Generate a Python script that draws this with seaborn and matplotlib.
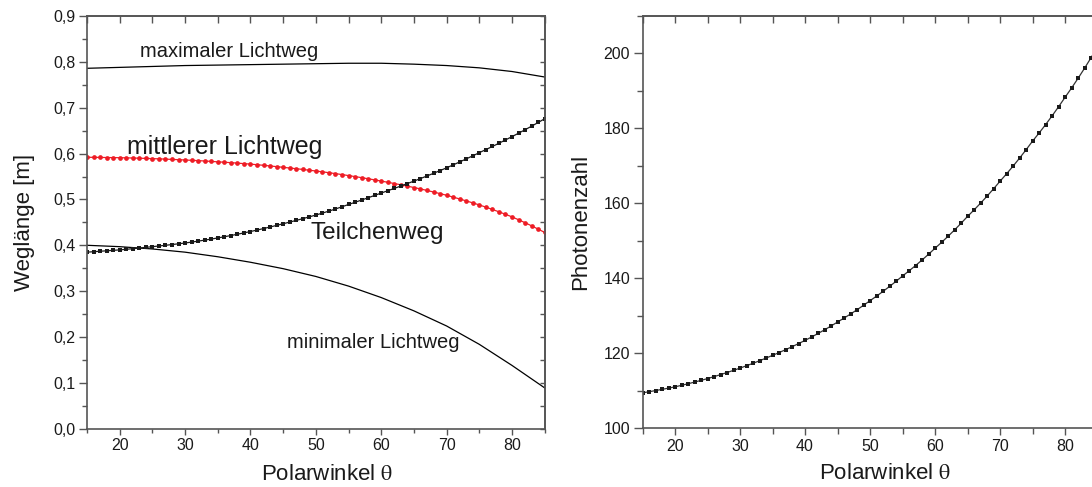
import numpy as np
import matplotlib
matplotlib.use("Agg")
import matplotlib.pyplot as plt
import seaborn as sns

# ---- data -------------------------------------------------------------
theta = np.arange(15, 86, 1)                 # Polarwinkel in Grad
theta_coarse = [15, 20, 25, 30, 35, 40, 45, 50, 55, 60, 65, 70, 75, 80, 85]

teilchenweg = [0.3850, 0.3860, 0.3870, 0.3880, 0.3890, 0.3900,
               0.3913, 0.3926, 0.3940, 0.3955, 0.3970,
               0.3985, 0.4000, 0.4016, 0.4033, 0.4050,
               0.4070, 0.4091, 0.4113, 0.4136, 0.4160,
               0.4186, 0.4213, 0.4241, 0.4270, 0.4300,
               0.4332, 0.4365, 0.4399, 0.4434, 0.4470,
               0.4506, 0.4543, 0.4581, 0.4620, 0.4660,
               0.4702, 0.4746, 0.4792, 0.4840, 0.4890,
               0.4938, 0.4987, 0.5037, 0.5088, 0.5140,
               0.5190, 0.5241, 0.5293, 0.5346, 0.5400,
               0.5455, 0.5512, 0.5570, 0.5629, 0.5690,
               0.5753, 0.5818, 0.5884, 0.5951, 0.6020,
               0.6087, 0.6155, 0.6225, 0.6297, 0.6370,
               0.6444, 0.6520, 0.6598, 0.6678, 0.6760]

mittlerer_lichtweg = [0.5920, 0.5918, 0.5916, 0.5914, 0.5912, 0.5910,
                      0.5907, 0.5903, 0.5899, 0.5895, 0.5890,
                      0.5885, 0.5879, 0.5873, 0.5867, 0.5860,
                      0.5853, 0.5846, 0.5838, 0.5829, 0.5820,
                      0.5811, 0.5802, 0.5792, 0.5781, 0.5770,
                      0.5757, 0.5744, 0.5730, 0.5715, 0.5700,
                      0.5685, 0.5670, 0.5654, 0.5637, 0.5620,
                      0.5602, 0.5583, 0.5563, 0.5542, 0.5520,
                      0.5498, 0.5475, 0.5451, 0.5426, 0.5400,
                      0.5374, 0.5347, 0.5319, 0.5290, 0.5260,
                      0.5229, 0.5196, 0.5162, 0.5127, 0.5090,
                      0.5051, 0.5010, 0.4968, 0.4925, 0.4880,
                      0.4832, 0.4782, 0.4730, 0.4676, 0.4620,
                      0.4557, 0.4492, 0.4424, 0.4353, 0.4280]

maximaler_lichtweg = [0.786, 0.788, 0.790, 0.792, 0.793, 0.794, 0.795, 0.796,
                      0.797, 0.797, 0.795, 0.792, 0.787, 0.779, 0.767]
minimaler_lichtweg = [0.400, 0.397, 0.392, 0.385, 0.375, 0.363, 0.349, 0.332,
                      0.311, 0.286, 0.257, 0.224, 0.184, 0.138, 0.089]

photonenzahl = [109.40, 109.69, 110.00, 110.32, 110.65, 111.00,
                111.40, 111.82, 112.26, 112.72, 113.20,
                113.72, 114.26, 114.82, 115.40, 116.00,
                116.63, 117.28, 117.96, 118.67, 119.40,
                120.14, 120.91, 121.71, 122.54, 123.40,
                124.30, 125.24, 126.22, 127.24, 128.30,
                129.35, 130.44, 131.58, 132.77, 134.00,
                135.21, 136.48, 137.80, 139.17, 140.60,
                141.96, 143.38, 144.86, 146.40, 148.00,
                149.56, 151.19, 152.89, 154.66, 156.50,
                158.23, 160.03, 161.91, 163.87, 165.90,
                167.87, 169.92, 172.06, 174.29, 176.60,
                178.75, 181.00, 183.34, 185.77, 188.30,
                190.78, 193.37, 196.07, 198.88, 201.80]

x_major = [20, 30, 40, 50, 60, 70, 80]
x_minor = [15, 25, 35, 45, 55, 65, 75, 85]
x_labels = ["20", "30", "40", "50", "60", "70", "80"]

weg_major = [0.0, 0.1, 0.2, 0.3, 0.4, 0.5, 0.6, 0.7, 0.8, 0.9]
weg_minor = [0.05, 0.15, 0.25, 0.35, 0.45, 0.55, 0.65, 0.75, 0.85]
weg_labels = ["0,0", "0,1", "0,2", "0,3", "0,4", "0,5", "0,6", "0,7", "0,8", "0,9"]

ph_major = [100, 120, 140, 160, 180, 200]
ph_minor = [110, 130, 150, 170, 190, 210]
ph_labels = ["100", "120", "140", "160", "180", "200"]

# ---- style ------------------------------------------------------------
sns.set_theme(style="ticks")
plt.rcParams["font.family"] = ["Liberation Sans", "DejaVu Sans"]
plt.rcParams["mathtext.fontset"] = "stix"
SPINE = "#555555"
plt.rcParams["axes.edgecolor"] = SPINE
plt.rcParams["axes.linewidth"] = 1.2
plt.rcParams["xtick.color"] = SPINE
plt.rcParams["ytick.color"] = SPINE
plt.rcParams["xtick.labelcolor"] = "#1a1a1a"
plt.rcParams["ytick.labelcolor"] = "#1a1a1a"

XLABEL = r"Polarwinkel $\mathrm{\theta}$"

fig = plt.figure(figsize=(10.92, 4.87), dpi=100)
ax1 = fig.add_axes([0.0797, 0.1197, 0.4191, 0.8474])
ax2 = fig.add_axes([0.5884, 0.1211, 0.4167, 0.8460])


def dress(ax, ymaj, ymin, ylabels, ylim, blen, llen):
    ax.set_xlim(15, 85)
    ax.set_ylim(*ylim)
    ax.set_xticks(x_major)
    ax.set_xticklabels(x_labels)
    ax.set_xticks(x_minor, minor=True)
    ax.set_yticks(ymaj)
    ax.set_yticklabels(ylabels)
    ax.set_yticks(ymin, minor=True)
    ax.tick_params(axis="x", which="major", direction="out", length=blen,
                   width=1.0, labelsize=11.5, pad=3)
    ax.tick_params(axis="x", which="minor", direction="out", length=blen - 1,
                   width=1.0)
    ax.tick_params(axis="y", which="major", direction="out", length=llen,
                   width=1.0, labelsize=11.5, pad=2.5)
    ax.tick_params(axis="y", which="minor", direction="out", length=llen - 2.5,
                   width=1.0)
    for s in ax.spines.values():
        s.set_visible(True)
        s.set_color(SPINE)
    # inward ticks on the opposite sides
    top = ax.secondary_xaxis("top")
    top.set_xticks(x_major)
    top.set_xticks(x_minor, minor=True)
    top.tick_params(axis="x", which="both", direction="in", length=5,
                    width=1.0, labeltop=False)
    right = ax.secondary_yaxis("right")
    right.set_yticks(ymaj)
    right.set_yticks(ymin, minor=True)
    right.tick_params(axis="y", which="both", direction="in", length=3.5,
                      width=1.0, labelright=False)
    for sec in (top, right):
        for s in sec.spines.values():
            s.set_color(SPINE)


# ---- left panel: path lengths ------------------------------------------
sns.lineplot(x=theta_coarse, y=maximaler_lichtweg, ax=ax1, color="black",
             linewidth=0.9, estimator=None, sort=False)
sns.lineplot(x=theta_coarse, y=minimaler_lichtweg, ax=ax1, color="black",
             linewidth=0.9, estimator=None, sort=False)
sns.lineplot(x=theta, y=mittlerer_lichtweg, ax=ax1, color="#ee1c25",
             linewidth=0.9, marker="o", markersize=3.4, markeredgewidth=0,
             markerfacecolor="#ee1c25", estimator=None, sort=False)
sns.lineplot(x=theta, y=teilchenweg, ax=ax1, color="#1a1a1a",
             linewidth=0.9, marker="s", markersize=3.4, markeredgewidth=0,
             markerfacecolor="#1a1a1a", estimator=None, sort=False)

dress(ax1, weg_major, weg_minor, weg_labels, (0, 0.9), 4, 6)
ax1.set_xlabel(XLABEL, fontsize=16, color="#1a1a1a")
ax1.set_ylabel("Weglänge [m]", fontsize=16, color="#1a1a1a")
ax1.xaxis.set_label_coords(0.524, -0.085)
ax1.yaxis.set_label_coords(-0.113, 0.5)

ax1.text(36.7, 0.810, "maximaler Lichtweg", fontsize=14.5, ha="center",
         va="baseline", color="#1a1a1a")
ax1.text(36.0, 0.599, "mittlerer Lichtweg", fontsize=18, ha="center",
         va="baseline", color="#1a1a1a")
ax1.text(59.4, 0.413, "Teilchenweg", fontsize=17.5, ha="center",
         va="baseline", color="#1a1a1a")
ax1.text(58.8, 0.175, "minimaler Lichtweg", fontsize=14.5, ha="center",
         va="baseline", color="#1a1a1a")

# ---- right panel: photon count -----------------------------------------
sns.lineplot(x=theta, y=photonenzahl, ax=ax2, color="#333333",
             linewidth=0.9, marker="s", markersize=3.2, markeredgewidth=0,
             markerfacecolor="#1a1a1a", estimator=None, sort=False)

dress(ax2, ph_major, ph_minor, ph_labels, (100, 210), 5, 6.5)
ax2.set_xlabel(XLABEL, fontsize=16, color="#1a1a1a")
ax2.set_ylabel("Photonenzahl", fontsize=16, color="#1a1a1a")
ax2.xaxis.set_label_coords(0.533, -0.085)
ax2.yaxis.set_label_coords(-0.113, 0.5)

fig.savefig("out.png", dpi=100)
